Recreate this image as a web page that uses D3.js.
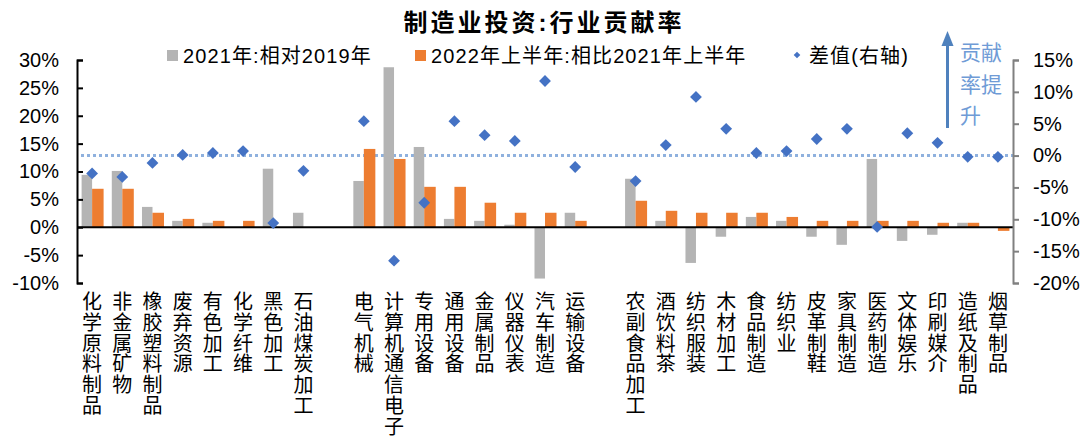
<!DOCTYPE html>
<html>
<head>
<meta charset="utf-8">
<script src="https://cdn.jsdelivr.net/npm/d3@7"></script>
<style>
  body { margin: 0; background: #fff; }
  text { font-family: "Liberation Sans", Arial, "Noto Sans CJK SC", sans-serif; }
</style>
</head>
<body>
<div id="chart"></div>
<script>
// categories, "" = empty slot between groups
var categories = ["化学原料制品", "非金属矿物", "橡胶塑料制品", "废弃资源", "有色加工", "化学纤维", "黑色加工", "石油煤炭加工",
  "",
  "电气机械", "计算机通信电子", "专用设备", "通用设备", "金属制品", "仪器仪表", "汽车制造", "运输设备",
  "",
  "农副食品加工", "酒饮料茶", "纺织服装", "木材加工", "食品制造", "纺织业", "皮革制鞋", "家具制造", "医药制造",
  "文体娱乐", "印刷媒介", "造纸及制品", "烟草制品"];

// 2021年:相对2019年 (%)
var vals2021 = [9.4, 10.1, 3.65, 1.15, 0.8, 0, 10.5, 2.6,
  null,
  8.3, 28.7, 14.4, 1.5, 1.15, 0.45, -9.2, 2.6,
  null,
  8.7, 1.15, -6.4, -1.7, 1.85, 1.15, -1.7, -3.15, 12.25, -2.45, -1.35, 0.8, 0];

// 2022年上半年:相比2021年上半年 (%)
var vals2022 = [6.9, 6.9, 2.6, 1.5, 1.15, 1.15, 0, 0,
  null,
  14.05, 12.25, 7.25, 7.25, 4.4, 2.6, 2.6, 1.15,
  null,
  4.75, 2.95, 2.6, 2.6, 2.6, 1.85, 1.15, 1.15, 1.15, 1.15, 0.8, 0.8, -0.65];

// 差值(右轴) (%)
var diffVals = [-2.8, -3.35, -1.15, 0.1, 0.4, 0.7, -10.6, -2.4,
  null,
  5.4, -16.5, -7.4, 5.4, 3.2, 2.3, 11.7, -1.8,
  null,
  -4.0, 1.65, 9.2, 4.2, 0.4, 0.7, 2.6, 4.2, -11.2, 3.5, 2.0, -0.2, -0.2];

var leftTicks = [-10, -5, 0, 5, 10, 15, 20, 25, 30];
var rightTicks = [-20, -15, -10, -5, 0, 5, 10, 15];

var w = 1088, h = 442;
var pLeft = 77, pRight = 1013, pTop = 60, pBottom = 283;

var svg = d3.select("#chart").append("svg")
  .attr("width", w)
  .attr("height", h);

var x = d3.scaleBand()
  .domain(d3.range(categories.length))
  .range([pLeft, pRight]);

var y = d3.scaleLinear().domain([-10, 30]).range([pBottom, pTop]);
var y2 = d3.scaleLinear().domain([-20, 15]).range([pBottom, pTop]);

var barW = 10.5;

function center(i) { return x(i) + x.bandwidth() / 2; }

// title
svg.append("text")
  .attr("x", 544).attr("y", 31)
  .attr("text-anchor", "middle")
  .style("font-size", "24px")
  .style("font-weight", "bold")
  .style("letter-spacing", "3px")
  .text("制造业投资:行业贡献率");

// dotted line at right-axis zero
svg.append("line")
  .attr("x1", pLeft + 4).attr("x2", pRight + 4)
  .attr("y1", y2(0)).attr("y2", y2(0))
  .attr("stroke", "#8fb1de")
  .attr("stroke-width", 3)
  .attr("stroke-dasharray", "3,3");

// gray bars
vals2021.forEach(function(d, i) {
  if (d === null || d === 0) return;
  svg.append("rect")
    .attr("x", center(i) - barW)
    .attr("y", y(Math.max(d, 0)))
    .attr("width", barW)
    .attr("height", Math.abs(y(d) - y(0)))
    .attr("fill", "#b4b4b4");
});

// orange bars
vals2022.forEach(function(d, i) {
  if (d === null || d === 0) return;
  svg.append("rect")
    .attr("x", center(i))
    .attr("y", y(Math.max(d, 0)))
    .attr("width", barW + 1)
    .attr("height", Math.abs(y(d) - y(0)))
    .attr("fill", "#ed7d31");
});

// zero line
svg.append("line")
  .attr("x1", pLeft).attr("x2", pRight)
  .attr("y1", y(0)).attr("y2", y(0))
  .attr("stroke", "#000")
  .attr("stroke-width", 2);

// diamonds
var diamond = d3.symbol().type(d3.symbolSquare).size(70);
diffVals.forEach(function(d, i) {
  if (d === null) return;
  svg.append("path")
    .attr("d", diamond())
    .attr("transform", "translate(" + center(i) + "," + y2(d) + ") rotate(45)")
    .attr("fill", "#4472c4");
});

// left axis
var yAxis = d3.axisLeft(y)
  .tickValues(leftTicks)
  .tickSize(-6)
  .tickPadding(18)
  .tickFormat(function(d) { return d + "%"; });

var gL = svg.append("g")
  .attr("transform", "translate(" + pLeft + ",0)")
  .call(yAxis);
gL.select(".domain").attr("stroke", "#000").attr("stroke-width", 2);
gL.selectAll(".tick line").attr("stroke", "#000").attr("stroke-width", 2);
gL.selectAll(".tick text")
  .style("font-size", "20px")
  .style("font-family", "'Liberation Sans', Arial, sans-serif")
  .attr("fill", "#000");

// right axis
var yAxis2 = d3.axisRight(y2)
  .tickValues(rightTicks)
  .tickSize(6)
  .tickPadding(14)
  .tickFormat(function(d) { return d + "%"; });

var gR = svg.append("g")
  .attr("transform", "translate(" + pRight + ",0)")
  .call(yAxis2);
gR.select(".domain").attr("stroke", "#808080").attr("stroke-width", 2);
gR.selectAll(".tick line").attr("stroke", "#808080").attr("stroke-width", 2);
gR.selectAll(".tick text")
  .style("font-size", "20px")
  .style("font-family", "'Liberation Sans', Arial, sans-serif")
  .attr("fill", "#000");

// vertical category labels
categories.forEach(function(c, i) {
  if (!c) return;
  var t = svg.append("text")
    .attr("text-anchor", "middle")
    .style("font-size", "20px")
    .style("font-family", "'Noto Sans CJK SC', sans-serif")
    .attr("fill", "#000");
  c.split("").forEach(function(ch, k) {
    t.append("tspan")
      .attr("x", center(i))
      .attr("y", 309 + k * 20.8)
      .text(ch);
  });
});

// legend
var legend = svg.append("g").style("font-size", "20px").style("letter-spacing", "1.1px");
legend.append("rect").attr("x", 167).attr("y", 50).attr("width", 11).attr("height", 11).attr("fill", "#b4b4b4");
legend.append("text").attr("x", 183).attr("y", 63).text("2021年:相对2019年");
legend.append("rect").attr("x", 415).attr("y", 50).attr("width", 11).attr("height", 11).attr("fill", "#ed7d31");
legend.append("text").attr("x", 431).attr("y", 63).text("2022年上半年:相比2021年上半年");
legend.append("path")
  .attr("d", d3.symbol().type(d3.symbolSquare).size(22)())
  .attr("transform", "translate(797,55) rotate(45)")
  .attr("fill", "#4472c4");
legend.append("text").attr("x", 809).attr("y", 63).text("差值(右轴)");

// arrow
svg.append("line")
  .attr("x1", 947.5).attr("x2", 947.5)
  .attr("y1", 128).attr("y2", 44)
  .attr("stroke", "#4f81bd")
  .attr("stroke-width", 3);
svg.append("path")
  .attr("d", "M941.5,46 L947.5,31 L953.5,46 Z")
  .attr("fill", "#4f81bd");

var arrowText = ["贡献", "率提", "升"];
arrowText.forEach(function(s, k) {
  svg.append("text")
    .attr("x", 960)
    .attr("y", 60 + k * 31.5)
    .style("font-size", "21px")
    .style("font-family", "'Noto Sans CJK SC', sans-serif")
    .attr("fill", "#6f9bd6")
    .text(s);
});
</script>
</body>
</html>
